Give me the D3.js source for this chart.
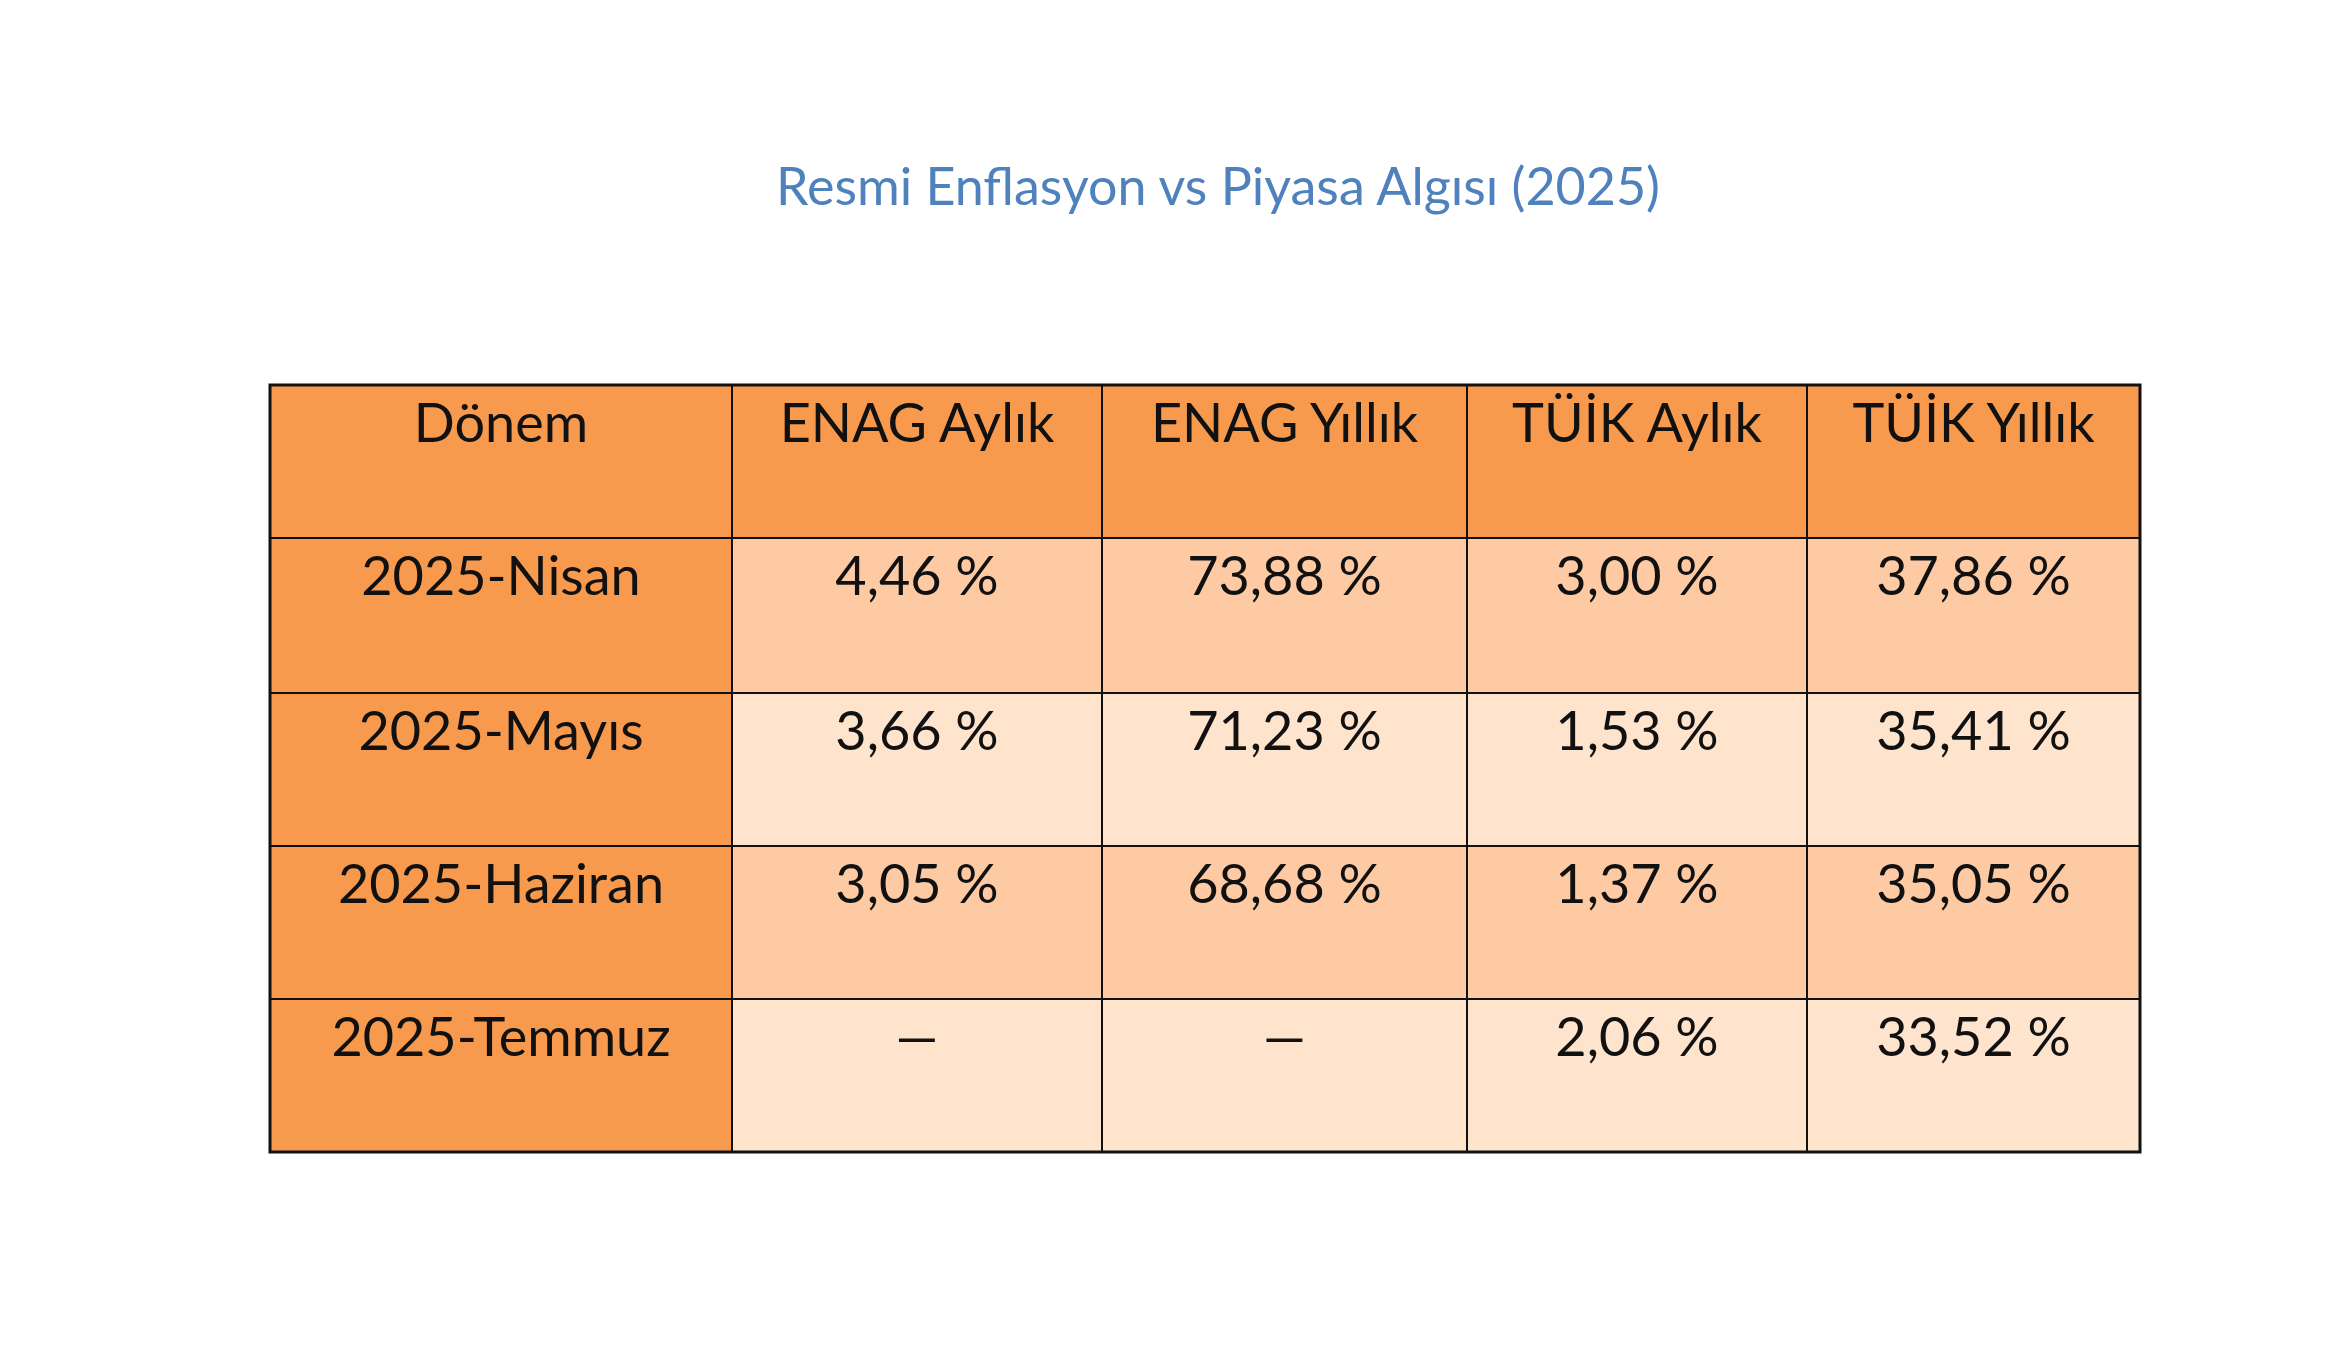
<!DOCTYPE html>
<html><head><meta charset="utf-8">
<script src="https://cdn.jsdelivr.net/npm/d3@7"></script>
<style>body{margin:0;background:#fff}</style></head>
<body><svg id="c" width="2342" height="1353"></svg>
<script>
const title = "Resmi Enflasyon vs Piyasa Algısı (2025)";
const columns = ["Dönem", "ENAG Aylık", "ENAG Yıllık", "TÜİK Aylık", "TÜİK Yıllık"];
const periods = ["2025-Nisan", "2025-Mayıs", "2025-Haziran", "2025-Temmuz"];
const enagAylik = ["4,46 %", "3,66 %", "3,05 %", "—"];
const enagYillik = ["73,88 %", "71,23 %", "68,68 %", "—"];
const tuikAylik = ["3,00 %", "1,53 %", "1,37 %", "2,06 %"];
const tuikYillik = ["37,86 %", "35,41 %", "35,05 %", "33,52 %"];

const rows = [columns].concat(periods.map((p,i)=>[p, enagAylik[i], enagYillik[i], tuikAylik[i], tuikYillik[i]]));
const colEdges = [270, 732, 1102, 1467, 1807, 2140];
const rowEdges = [385, 538, 693, 846, 999, 1152];
const svg = d3.select("#c");
const font = "Lato, 'Noto Sans', sans-serif";

svg.append("text").attr("x",1218).attr("y",205).attr("text-anchor","middle")
  .attr("font-family",font).attr("font-size",52).attr("fill","#4F81BD").text(title);

rows.forEach((r,ri)=>{
  r.forEach((v,ci)=>{
    let fill = (ri===0||ci===0) ? "#F79A4E" : (ri%2===1 ? "#FDCAA4" : "#FEE3CD");
    const x0=colEdges[ci], x1=colEdges[ci+1], y0=rowEdges[ri], y1=rowEdges[ri+1];
    svg.append("rect").attr("x",x0).attr("y",y0).attr("width",x1-x0).attr("height",y1-y0)
      .attr("fill",fill).attr("stroke","#111").attr("stroke-width",2);
    svg.append("text").attr("x",(x0+x1)/2).attr("y",y0+57).attr("text-anchor","middle")
      .attr("font-family",font).attr("font-size",54).attr("fill","#111").text(v);
  });
});
svg.append("rect").attr("x",270).attr("y",385).attr("width",1870).attr("height",767)
  .attr("fill","none").attr("stroke","#111").attr("stroke-width",3);
</script></body></html>
